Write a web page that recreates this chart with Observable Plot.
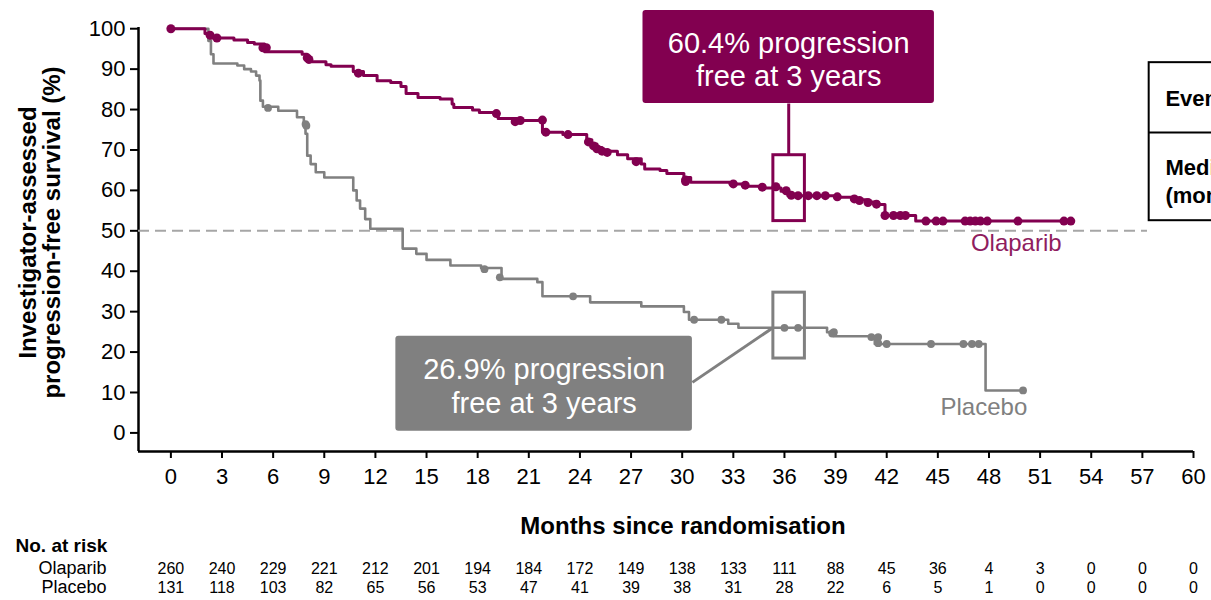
<!DOCTYPE html>
<html><head><meta charset="utf-8">
<script src="https://cdn.jsdelivr.net/npm/d3@7"></script>
<script src="https://cdn.jsdelivr.net/npm/@observablehq/plot@0.6"></script>
<style>body{margin:0;background:#fff} #chart svg{display:block}</style>
</head><body><div id="chart"></div>
<script>
// ---- Data ----
const xTicks = [0,3,6,9,12,15,18,21,24,27,30,33,36,39,42,45,48,51,54,57,60];
const yTicks = [0,10,20,30,40,50,60,70,80,90,100];

// Kaplan-Meier steps: time (months) and survival (%) after each step
const olapT = [0,2.0,2.3,3.7,4.5,4.9,5.5,7.7,8.0,9.1,9.4,10.7,11.3,12.1,12.9,13.5,13.8,14.5,15.8,16.5,16.6,17.7,18.1,19.2,20.3,21.8,23.0,24.4,24.7,25.0,25.3,26.2,26.8,27.6,27.8,28.7,29.1,30.1,30.5,32.8,33.8,34.8,35.8,36.2,39.2,40.1,40.8,41.5,41.9,43.7,52.9];
const olapS = [100,98.8,97.7,97.2,96.6,96.2,94.3,93.7,91.8,91.1,90.7,89.4,88.4,87.1,86.7,85.7,84.0,83.0,82.6,81.4,80.5,79.9,79.3,77.8,77.3,74.4,73.8,72.5,71.5,70.6,69.7,68.8,67.8,66.5,65.3,64.9,64.2,63.2,62.0,61.6,61.0,60.6,59.8,58.7,58.3,57.7,57.1,56.5,53.8,52.4,52.4];

const placT = [0,2.2,2.35,2.5,3.9,4.3,4.7,5.0,5.2,5.25,5.4,6.3,7.4,7.8,7.9,8.0,8.2,8.5,9.0,10.7,10.9,11.1,11.4,11.7,13.6,14.4,15.0,16.4,18.2,19.4,21.5,21.8,24.6,27.6,30.1,30.4,32.7,33.3,38.5,38.9,41.3,47.8,50.0];
const placS = [100,97.0,93.7,91.4,90.9,90.0,89.4,88.4,87.2,82.2,80.7,79.7,78.1,76.6,74.0,68.6,66.5,64.5,63.2,60.0,57.5,55.5,52.9,50.5,45.6,44.3,42.8,41.4,40.8,38.1,37.3,33.8,32.3,31.3,29.9,28.0,27.0,26.0,24.9,23.9,22.0,10.5,10.5];

// Censored observations
const olapCensT = [0,2.3,2.7,5.4,5.6,8.0,8.1,11.0,19.1,20.2,20.5,21.8,22.0,23.3,24.5,24.8,25.0,25.3,25.6,27.3,30.2,30.2,33.0,33.7,34.7,35.5,36.1,36.4,36.8,37.4,37.9,38.4,39.1,40.1,40.4,40.9,41.4,41.9,42.4,42.8,43.1,44.3,44.9,45.3,46.6,46.9,47.2,47.5,47.9,49.7,52.4,52.8];
const olapCensS = [100,98.4,97.7,95.3,95.3,92.8,92.4,89.0,79.0,77.0,77.3,77.4,74.4,73.8,72.0,71.0,70.3,69.7,69.4,67.1,62.6,62.2,61.6,61.3,60.8,60.9,59.9,58.8,58.7,58.7,58.7,58.7,58.4,57.9,57.5,57.0,56.6,53.8,53.8,53.8,53.8,52.4,52.4,52.4,52.4,52.4,52.4,52.4,52.4,52.4,52.4,52.4];
const placCensT = [5.7,7.9,7.95,18.4,19.3,23.6,30.7,32.3,36.0,36.8,38.8,38.9,41.1,41.5,41.5,42.0,44.6,46.5,47.0,47.4,50.0];
const placCensS = [80.4,76.4,76.0,40.5,38.5,33.8,28.0,28.0,26.0,26.0,24.6,24.9,23.7,23.7,22.2,22.0,22.0,22.0,22.0,22.0,10.5];

// Numbers at risk
const riskMonths = xTicks;
const olapRisk = [260,240,229,221,212,201,194,184,172,149,138,133,111,88,45,36,4,3,0,0,0];
const placRisk = [131,118,103,82,65,56,53,47,41,39,38,31,28,22,6,5,1,0,0,0,0];

const seriesNames = ["Olaparib","Placebo"];
const olapAnnot = "60.4% progression\nfree at 3 years";
const placAnnot = "26.9% progression\nfree at 3 years";

// ---- Build ----
const PURPLE = "#820050", PURPLE_LABEL = "#8f1d5f", GRAY = "#808080";
const toRows = (T, S) => T.map((t, i) => ({t, s: S[i]}));
const olap = toRows(olapT, olapS), plac = toRows(placT, placS);
const olapC = toRows(olapCensT, olapCensS), placC = toRows(placCensT, placCensS);
const X0 = -1.9, Y0 = -4.6;
const id = d => d;

const chart = Plot.plot({
  width: 1211, height: 600,
  marginLeft: 138, marginRight: 18, marginTop: 27, marginBottom: 149,
  x: {domain: [X0, 60], axis: null, label: null},
  y: {domain: [Y0, 100.3], axis: null, label: null},
  style: {fontFamily: "'Liberation Sans', Arial, sans-serif", background: "#fff", color: "#000"},
  marks: [
    // axes
    Plot.axisY(yTicks, {anchor: "left", tickSize: 8, tickPadding: 5, fontSize: 22, strokeWidth: 2, label: null}),
    Plot.axisX(xTicks, {anchor: "bottom", tickSize: 7, tickPadding: 10, fontSize: 22, strokeWidth: 2, label: null}),
    Plot.ruleX([X0], {y1: Y0, y2: 100.3, stroke: "#000", strokeWidth: 2.5}),
    Plot.ruleY([Y0], {x1: X0, x2: 60, stroke: "#000", strokeWidth: 2.5}),
    // median reference
    Plot.ruleY([50], {x1: X0, x2: 57.3, stroke: "#a6a6a6", strokeWidth: 2, strokeDasharray: "11,6"}),
    // curves
    Plot.line(plac, {x: "t", y: "s", curve: "step-after", stroke: GRAY, strokeWidth: 2.6}),
    Plot.dot(placC, {x: "t", y: "s", r: 3.9, fill: GRAY}),
    Plot.line(olap, {x: "t", y: "s", curve: "step-after", stroke: PURPLE, strokeWidth: 3}),
    Plot.dot(olapC, {x: "t", y: "s", r: 4.5, fill: PURPLE}),
    // curve labels
    Plot.text([seriesNames[0]], {x: 49.6, y: 46.8, text: id, fill: PURPLE_LABEL, fontSize: 24}),
    Plot.text([seriesNames[1]], {x: 47.7, y: 6.3, text: id, fill: GRAY, fontSize: 24}),
    // olaparib annotation
    Plot.rect([0], {x1: 35.35, x2: 37.2, y1: 52.4, y2: 68.7, fill: "none", stroke: PURPLE, strokeWidth: 3}),
    Plot.link([0], {x1: 36.25, x2: 36.25, y1: 81.5, y2: 68.7, stroke: PURPLE, strokeWidth: 3}),
    Plot.rect([0], {x1: 27.7, x2: 44.8, y1: 81.5, y2: 104.5, fill: PURPLE, rx: 3}),
    Plot.text([olapAnnot], {x: 36.25, y: 92.6, text: id, fill: "#fff", fontSize: 29, lineHeight: 1.16}),
    // placebo annotation
    Plot.rect([0], {x1: 35.35, x2: 37.2, y1: 18.4, y2: 34.7, fill: "none", stroke: GRAY, strokeWidth: 3}),
    Plot.link([0], {x1: 30.6, x2: 35.35, y1: 12.5, y2: 26.1, stroke: GRAY, strokeWidth: 3}),
    Plot.rect([0], {x1: 13.2, x2: 30.6, y1: 0.4, y2: 23.9, fill: GRAY, rx: 3}),
    Plot.text([placAnnot], {x: 21.9, y: 11.9, text: id, fill: "#fff", fontSize: 29, lineHeight: 1.2}),
    // partially visible summary table (cut by the right edge, as in the original)
    Plot.rect([0], {x1: 57.4, x2: 75, y1: 52.5, y2: 91.6, fill: "none", stroke: "#000", strokeWidth: 2}),
    Plot.ruleY([74.3], {x1: 57.4, x2: 75, stroke: "#000", strokeWidth: 2}),
    Plot.text(["Events, n (%)"], {x: 58.35, y: 82.6, text: id, textAnchor: "start", fontWeight: "bold", fontSize: 22}),
    Plot.text(["Median PFS\n(months)"], {x: 58.35, y: 62.6, text: id, textAnchor: "start", fontWeight: "bold", fontSize: 22, lineHeight: 1.3}),
    // axis titles
    Plot.text(["Investigator-assessed\nprogression-free survival (%)"], {frameAnchor: "left", dx: -98, dy: -7, rotate: -90, text: id, textAnchor: "middle", lineAnchor: "middle", fontWeight: "bold", fontSize: 24, lineHeight: 1}),
    Plot.text(["Months since randomisation"], {frameAnchor: "bottom", dx: 17, dy: 75, text: id, lineAnchor: "middle", fontWeight: "bold", fontSize: 24}),
    // numbers at risk
    Plot.text(["No. at risk"], {frameAnchor: "bottom-left", dx: -123, dy: 94, text: id, textAnchor: "start", lineAnchor: "middle", fontWeight: "bold", fontSize: 19}),
    Plot.text([seriesNames[0]], {frameAnchor: "bottom-left", dx: -32, dy: 117, text: id, textAnchor: "end", lineAnchor: "middle", fontSize: 18}),
    Plot.text([seriesNames[1]], {frameAnchor: "bottom-left", dx: -32, dy: 136, text: id, textAnchor: "end", lineAnchor: "middle", fontSize: 18}),
    Plot.text(olapRisk, {x: (d, i) => riskMonths[i], frameAnchor: "bottom", dy: 117, text: id, lineAnchor: "middle", fontSize: 16}),
    Plot.text(placRisk, {x: (d, i) => riskMonths[i], frameAnchor: "bottom", dy: 136, text: id, lineAnchor: "middle", fontSize: 16})
  ]
});
document.getElementById("chart").appendChild(chart);
</script></body></html>
